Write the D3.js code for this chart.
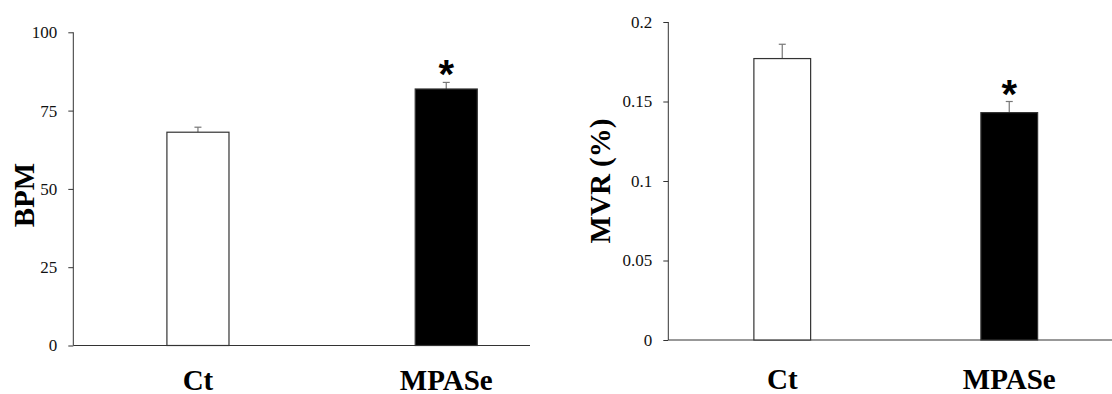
<!DOCTYPE html>
<html>
<head>
<meta charset="utf-8">
<script src="https://cdn.jsdelivr.net/npm/d3@7"></script>
<style>
  body { margin: 0; background: #fff; }
  svg { display: block; }
  .serif { font-family: 'Liberation Serif', 'Times New Roman', Tinos, 'DejaVu Serif', serif; }
</style>
</head>
<body>
<script>
const categories = ['Ct', 'MPASe'];
const barFills = ['#ffffff', '#000000'];
const significant = [false, true];

const bpmMeans = [68.1, 81.9];
const bpmErrors = [1.6, 2.1];
const bpmTicks = [0, 25, 50, 75, 100];

const mvrMeans = [0.177, 0.143];
const mvrErrors = [0.009, 0.007];
const mvrTicks = [0, 0.05, 0.1, 0.15, 0.2];

const width = 1112;
const height = 394;

const svg = d3.select('body').append('svg')
    .attr('width', width)
    .attr('height', height);

// one panel = one small bar chart
function panel(opts) {
    const x = d3.scaleBand()
        .domain(categories)
        .range([opts.left, opts.left + opts.step * 2.004])
        .paddingInner(0.75)
        .paddingOuter(0.377);
    const y = d3.scaleLinear()
        .domain([0, opts.max])
        .range([opts.bottom, opts.top]);

    const g = svg.append('g');

    const yAxis = d3.axisLeft(y)
        .tickValues(opts.ticks)
        .tickFormat(d3.format(''))
        .tickSize(5)
        .tickSizeOuter(0)
        .tickPadding(11);

    g.append('g')
        .attr('transform', `translate(${opts.left},0)`)
        .call(yAxis)
        .attr('font-family', null)
        .call(a => a.select('.domain').remove())
        .call(a => a.selectAll('.tick line').attr('stroke', '#333'))
        .call(a => a.selectAll('.tick text')
            .classed('serif', true)
            .attr('font-size', 17)
            .attr('fill', '#111'));

    // axis lines
    g.append('line')
        .attr('x1', opts.left).attr('x2', opts.left)
        .attr('y1', y(0)).attr('y2', y(opts.max))
        .attr('stroke', '#333');
    g.append('line')
        .attr('x1', opts.left).attr('x2', opts.right)
        .attr('y1', y(0)).attr('y2', y(0))
        .attr('stroke', '#333');

    const data = categories.map((c, i) => ({
        cat: c, mean: opts.means[i], err: opts.errors[i],
        fill: barFills[i], sig: significant[i]
    }));

    // error bars (upper only)
    const err = g.append('g').attr('stroke', '#777').attr('stroke-width', 1.2);
    data.forEach(d => {
        const cx = x(d.cat) + x.bandwidth() / 2;
        err.append('line')
            .attr('x1', cx).attr('x2', cx)
            .attr('y1', y(d.mean)).attr('y2', y(d.mean + d.err));
        err.append('line')
            .attr('x1', cx - 3.5).attr('x2', cx + 3.5)
            .attr('y1', y(d.mean + d.err)).attr('y2', y(d.mean + d.err));
    });

    g.append('g').selectAll('rect')
        .data(data)
        .enter().append('rect')
        .attr('x', d => x(d.cat))
        .attr('y', d => y(d.mean))
        .attr('width', x.bandwidth())
        .attr('height', d => y(0) - y(d.mean))
        .attr('fill', d => d.fill)
        .attr('stroke', '#333')
        .attr('stroke-width', 1.2);

    // significance mark
    g.append('g').selectAll('text')
        .data(data.filter(d => d.sig))
        .enter().append('text')
        .attr('x', d => x(d.cat) + x.bandwidth() / 2)
        .attr('y', d => y(d.mean + d.err) + 6)
        .attr('text-anchor', 'middle')
        .attr('font-family', 'Liberation Sans, sans-serif')
        .attr('font-size', 40)
        .attr('font-weight', 'bold')
        .text('*');

    // category labels
    g.append('g').selectAll('text')
        .data(data)
        .enter().append('text')
        .classed('serif', true)
        .attr('x', d => x(d.cat) + x.bandwidth() / 2)
        .attr('y', opts.labelY)
        .attr('text-anchor', 'middle')
        .attr('font-size', 29)
        .attr('font-weight', 'bold')
        .text(d => d.cat);

    g.append('text')
        .classed('serif', true)
        .attr('transform', `translate(${opts.titleX},${opts.titleY}) rotate(-90)`)
        .attr('dy', '0.33em')
        .attr('text-anchor', 'middle')
        .attr('font-size', 29)
        .attr('font-weight', 'bold')
        .text(opts.title);
}

panel({
    left: 73.3, right: 530, top: 32.3, bottom: 345.5, step: 248.3,
    max: 100, ticks: bpmTicks, means: bpmMeans, errors: bpmErrors,
    labelY: 390, title: 'BPM', titleX: 24, titleY: 195
});

panel({
    left: 668.3, right: 1112, top: 22, bottom: 340, step: 227,
    max: 0.2, ticks: mvrTicks, means: mvrMeans, errors: mvrErrors,
    labelY: 389, title: 'MVR (%)', titleX: 600, titleY: 181
});
</script>
</body>
</html>
